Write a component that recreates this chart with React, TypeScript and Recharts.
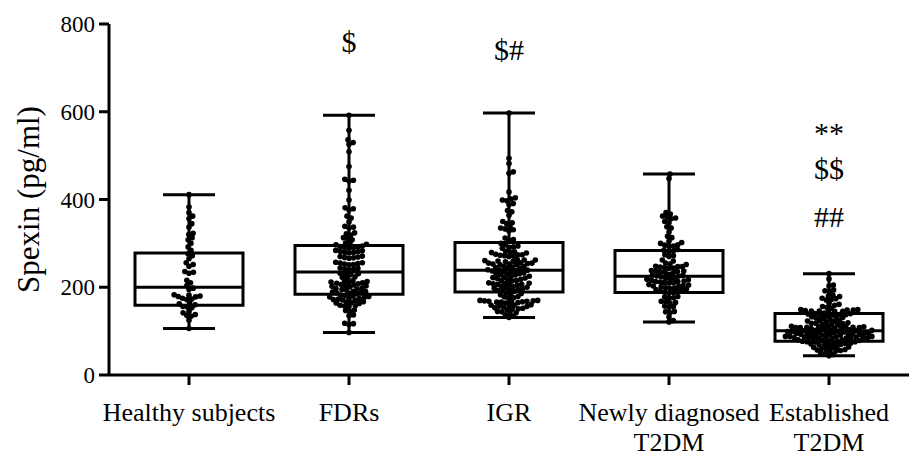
import { ComposedChart, XAxis, YAxis, Scatter, ReferenceArea, ReferenceLine } from "recharts";

const categoryLines = [
  ["Healthy subjects"],
  ["FDRs"],
  ["IGR"],
  ["Newly diagnosed", "T2DM"],
  ["Established", "T2DM"],
];

// box statistics per group (min, q1, median, q3, max)
const mins = [106, 97, 131, 121, 44];
const q1s = [159, 184, 189, 188, 77];
const medians = [200, 235, 239, 225, 101];
const q3s = [278, 295, 302, 284, 140];
const maxs = [411, 592, 597, 458, 231];

const healthy = [411, 383, 370, 362, 356, 345, 337, 323, 320, 313, 308, 300, 292, 284, 276, 272, 265, 256, 252, 248, 236, 234, 232, 216, 210, 204, 198, 195, 183, 182, 180, 179, 178, 175, 173, 172, 164, 162, 160, 156, 155, 153, 145, 142, 138, 136, 134, 125, 106];

const fdrs = [592, 558, 536, 530, 526, 509, 475, 446, 444, 442, 421, 399, 381, 379, 376, 362, 358, 349, 339, 337, 335, 324, 322, 319, 313, 311, 308, 301, 299, 298, 297,
  294, 291, 293, 290, 292, 289, 283, 281, 284, 279, 282, 278, 280, 271, 268, 270, 266, 269, 267,
  257, 254, 256, 252, 255, 251, 253, 244, 241, 243, 240, 242, 232, 229, 231, 230, 224, 221, 223,
  215, 212, 214, 209, 213, 210, 211, 208, 206, 203, 205, 201, 204, 202, 198, 195, 197, 194, 196,
  191, 188, 190, 186, 189, 185, 187, 182, 179, 181, 177, 180, 178, 175, 172, 174, 170, 173, 171,
  167, 164, 166, 163, 165, 159, 156, 158, 157, 148, 145, 147, 137, 135, 118, 115, 117, 97];

const igr = [597, 494, 482, 463, 460, 417, 404, 401, 399, 397, 391, 388, 375, 372, 364, 350, 347, 345, 338, 335, 333, 331, 328, 312, 309, 307, 300, 297,
  294, 291, 292, 289, 282, 279, 281, 278, 280, 275, 272, 274, 271, 273, 270, 274,
  263, 260, 262, 259, 261, 258, 262, 256, 253, 255, 252, 254, 251, 255, 253,
  248, 245, 247, 244, 246, 243, 240, 237, 239, 236, 238, 235, 239, 233, 230, 232, 229, 231, 228,
  225, 222, 224, 221, 223, 220, 218, 215, 217, 214, 216, 210, 207, 209, 206, 208, 205, 209, 207,
  202, 199, 201, 198, 200, 197, 195, 192, 194, 191, 193, 187, 184, 186, 183, 179, 176, 178, 175,
  170, 167, 169, 166, 168, 165, 169, 167, 170, 166, 168, 164, 160, 157, 159, 156, 158, 155, 159,
  153, 150, 152, 149, 151, 145, 142, 144, 141, 137, 134, 131];

const newly = [458, 448, 370, 367, 362, 360, 358, 356, 350, 347, 338, 335, 326, 316, 313, 305, 302, 300, 297, 296, 294, 293, 286, 284, 283, 281, 274, 272, 270, 262, 260, 255, 253, 252,
  248, 245, 247, 244, 246, 243, 247, 238, 235, 237, 234, 236, 233, 237, 229, 226, 228, 225, 227, 224,
  221, 218, 220, 217, 219, 216, 214, 211, 213, 210, 212, 209, 213, 206, 203, 205, 202, 204, 201,
  199, 196, 198, 195, 197, 194, 191, 188, 190, 187, 189, 179, 176, 178, 175, 168, 165, 167, 164,
  157, 154, 156, 145, 142, 144, 132, 124, 121];

const established = [231, 219, 205, 203, 194, 192, 190, 182, 180, 179, 175, 174, 172, 171, 163, 161, 159, 156, 154, 152,
  149, 146, 148, 145, 147, 144, 148, 146, 149, 145, 141, 138, 140, 137, 139, 136, 140, 138,
  134, 131, 133, 130, 132, 129, 126, 123, 125, 122, 124, 121, 119, 116, 118, 115, 117, 114, 118,
  111, 108, 110, 107, 109, 106, 110, 108, 111, 107, 109, 106, 110, 108,
  103, 100, 102, 99, 101, 98, 102, 100, 103, 99, 101, 98,
  96, 93, 95, 92, 94, 91, 95, 93, 96, 92, 94, 91, 95, 93,
  88, 85, 87, 84, 86, 83, 87, 85, 88, 84, 86, 83, 87, 85, 88, 84,
  80, 77, 79, 76, 78, 75, 79, 77, 80, 76, 73, 70, 72, 69, 71, 68, 72, 70,
  65, 62, 64, 61, 63, 60, 58, 55, 57, 54, 56, 50, 47, 49, 44];

const groups = [healthy, fdrs, igr, newly, established];

const annotationText = ["$", "$#", "**", "$$", "##"];
const annotationGroup = [1, 2, 4, 4, 4];
const annotationY = [736, 718, 529, 447, 337];

const PLOT_TOP = 24;
const PLOT_BOTTOM = 375;
const PX_PER_Y = (PLOT_BOTTOM - PLOT_TOP) / 800;
const PX_PER_X = 160;
const DOT_R = 2.8;
const SWARM_D = 4.5; // spacing used for the swarm, dots may touch/overlap a little
const SERIF = "'Liberation Serif', 'Times New Roman', serif";

// beeswarm layout: horizontal offsets so dots don't pile up
function swarm(values: number[], center: number) {
  const d = SWARM_D;
  const sorted = [...values].sort((a, b) => a - b);
  const placed: { x: number; y: number }[] = [];
  return sorted.map((v) => {
    const py = v * PX_PER_Y;
    const near = placed.filter((p) => Math.abs(p.y - py) < d);
    const cands = [0];
    near.forEach((p) => {
      const dx = Math.sqrt(d * d - (p.y - py) ** 2);
      cands.push(p.x + dx, p.x - dx);
    });
    cands.sort((a, b) => Math.abs(a) - Math.abs(b));
    const ok = cands.find((c) => near.every((p) => (c - p.x) ** 2 + (p.y - py) ** 2 >= d * d - 0.01)) ?? 0;
    placed.push({ x: ok, y: py });
    return { x: center + ok / PX_PER_X, y: v };
  });
}

const swarms = groups.map((vals, i) => swarm(vals, i + 0.5));
const annotations = annotationText.map((t, i) => ({ x: annotationGroup[i] + 0.5, y: annotationY[i], text: t }));

const CategoryTick = (props: any) => {
  const { x, y, payload } = props;
  const lines = categoryLines[Math.round(payload.value - 0.5)] || [];
  return (
    <text textAnchor="middle" fontFamily={SERIF} fontSize={26} fill="#000">
      {lines.map((l, i) => (
        <tspan key={i} x={x} y={y + 34 + i * 30}>{l}</tspan>
      ))}
    </text>
  );
};

const dotShape = (props: any) => <circle cx={props.cx} cy={props.cy} r={DOT_R} fill="#000" />;

const textShape = (props: any) => (
  <text x={props.cx} y={props.cy} textAnchor="middle" fontFamily={SERIF} fontSize={30} fill="#000">
    {props.payload?.text ?? props.text}
  </text>
);

const yLabel = (props: any) => {
  const vb = props.viewBox;
  const cx = vb.x + 28;
  const cy = vb.y + vb.height / 2;
  return (
    <text x={cx} y={cy} transform={`rotate(-90 ${cx} ${cy})`} textAnchor="middle" dominantBaseline="central"
      fontFamily={SERIF} fontSize={31} fill="#000">
      Spexin (pg/ml)
    </text>
  );
};

const lineStyle = { stroke: "#000", strokeWidth: 3 };

export default function App() {
  return (
    <div style={{ position: "absolute", left: 0, top: 0, background: "#fff" }}>
      <ComposedChart width={914} height={457} margin={{ top: PLOT_TOP, right: 5, bottom: 22, left: 0 }}>
        <XAxis type="number" dataKey="x" domain={[0, 5]} ticks={[0.5, 1.5, 2.5, 3.5, 4.5]} interval={0}
          height={60} tickSize={10} axisLine={lineStyle} tickLine={lineStyle} tick={CategoryTick} />
        <YAxis type="number" dataKey="y" domain={[0, 800]} ticks={[0, 200, 400, 600, 800]} width={109}
          tickSize={10} tickMargin={4} axisLine={lineStyle} tickLine={lineStyle}
          tick={{ fill: "#000", fontSize: 23, fontFamily: SERIF }} label={yLabel} />
        {groups.map((_, i) => (
          <ReferenceArea key={`box${i}`} x1={i + 0.5 - 0.3375} x2={i + 0.5 + 0.3375} y1={q1s[i]} y2={q3s[i]}
            fill="none" stroke="#000" strokeWidth={3} fillOpacity={0} />
        ))}
        {groups.map((_, i) => (
          <ReferenceLine key={`med${i}`} segment={[{ x: i + 0.5 - 0.3375, y: medians[i] }, { x: i + 0.5 + 0.3375, y: medians[i] }]} {...lineStyle} />
        ))}
        {groups.map((_, i) => (
          <ReferenceLine key={`wt${i}`} segment={[{ x: i + 0.5, y: q3s[i] }, { x: i + 0.5, y: maxs[i] }]} {...lineStyle} />
        ))}
        {groups.map((_, i) => (
          <ReferenceLine key={`wb${i}`} segment={[{ x: i + 0.5, y: mins[i] }, { x: i + 0.5, y: q1s[i] }]} {...lineStyle} />
        ))}
        {groups.map((_, i) => (
          <ReferenceLine key={`ct${i}`} segment={[{ x: i + 0.5 - 0.1625, y: maxs[i] }, { x: i + 0.5 + 0.1625, y: maxs[i] }]} {...lineStyle} />
        ))}
        {groups.map((_, i) => (
          <ReferenceLine key={`cb${i}`} segment={[{ x: i + 0.5 - 0.1625, y: mins[i] }, { x: i + 0.5 + 0.1625, y: mins[i] }]} {...lineStyle} />
        ))}
        {swarms.map((pts, i) => (
          <Scatter key={`s${i}`} data={pts} shape={dotShape} isAnimationActive={false} />
        ))}
        <Scatter data={annotations} shape={textShape} isAnimationActive={false} />
      </ComposedChart>
    </div>
  );
}
